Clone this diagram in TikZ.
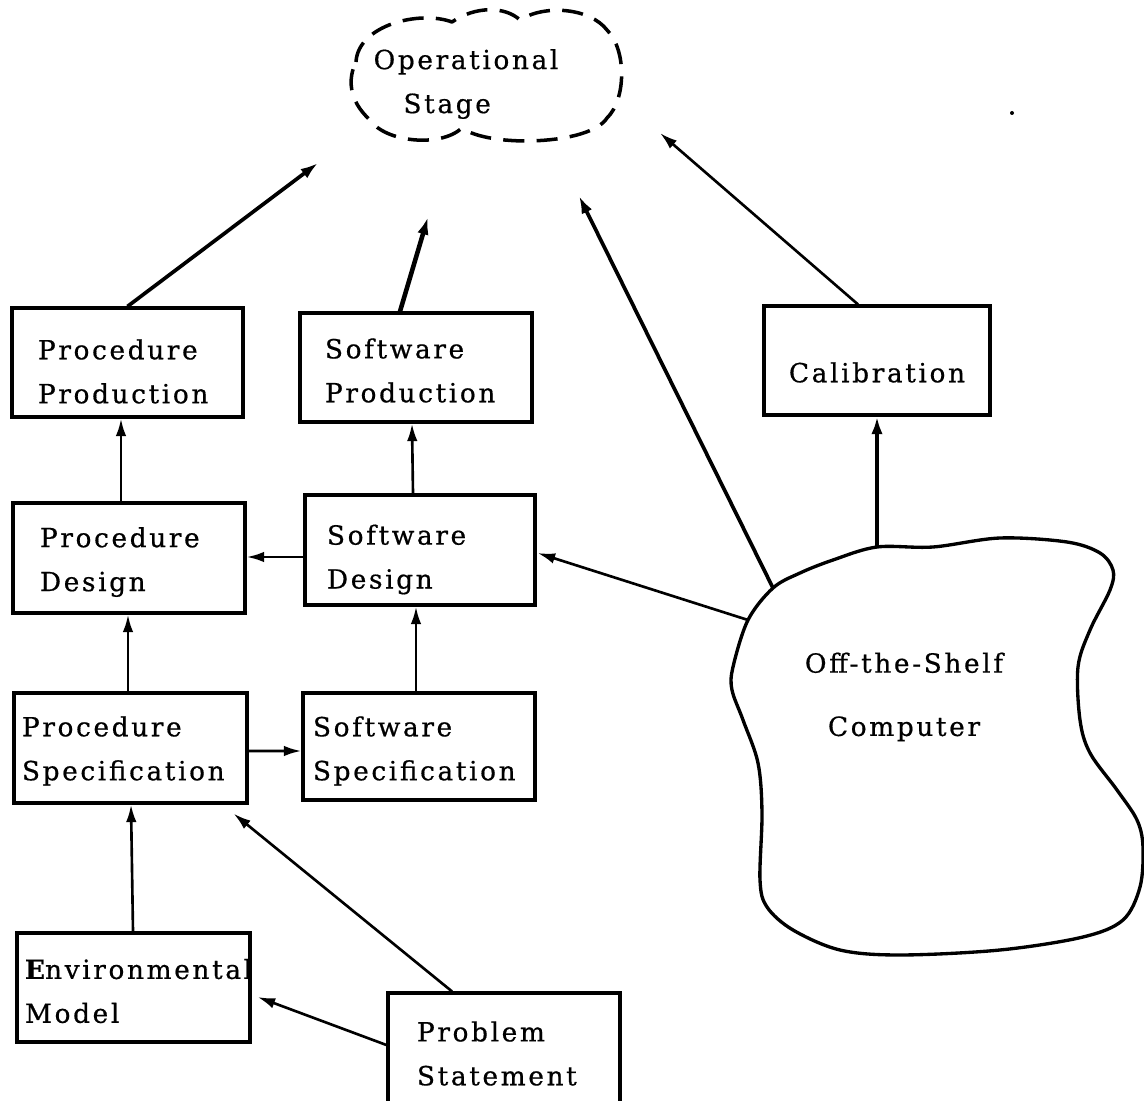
\documentclass[tikz,border=0pt]{standalone}
\usepackage{fontspec}
\setmainfont{DejaVu Serif}[LetterSpace=10,FakeBold=0.6]
\usetikzlibrary{arrows.meta,calc}
\begin{document}
\begin{tikzpicture}[x=0.02cm,y=-0.02cm,
  every node/.style={font=\fontsize{15}{25}\selectfont},
  box/.style n args={4}{draw, line width=1.8pt, minimum width=#1*0.02cm,
    minimum height=#2*0.02cm, inner xsep=#3*0.02cm, inner ysep=0pt,
    text width=#4*0.02cm, align=left},
  dn/.style={execute at begin node={\rule{0pt}{\dimexpr12pt+#1pt\relax}}},
  arr/.style={line width=1.5pt, -{Latex[length=10pt,width=6pt]}},
  thickarr/.style={line width=2.1pt, -{Latex[length=10pt,width=6.5pt]}},
  cloudline/.style={line width=1.8pt, line join=round}]
\useasboundingbox (0,0) rectangle (1144,1101);
\fill[white] (0,0) rectangle (1144,1101);
\clip (0,0) rectangle (1144,1101);

% Operational stage (dashed cloud)
\draw[cloudline, line width=2pt, dash pattern=on 12pt off 7pt]
  (356,62) .. controls (358,25) and (420,10) .. (452,22)
  .. controls (475,6) and (505,6) .. (520,20)
  .. controls (545,4) and (590,8) .. (607,30)
  .. controls (627,50) and (626,100) .. (607,118)
  .. controls (590,145) and (490,148) .. (462,128)
  .. controls (440,148) and (385,142) .. (370,120)
  .. controls (348,100) and (348,78) .. (356,62);
\node[align=left, inner sep=0pt] (op) at (466,84) {Operational\\\hspace*{17pt}Stage};
\coordinate (opA) at (318,163);
\coordinate (opB) at (428,217);
\coordinate (opC) at (579,196);
\coordinate (opD) at (660,133);
\fill (1012,113) circle (2);

% Boxes
\node[box={231}{109}{26}{179}, dn=9.6] (pp) at (127.5,362.5) {Procedure\\Production};
\node[box={232}{109}{25}{182}, dn=2.8] (sp) at (416,367.5) {Software\\Production};
\node[draw, line width=1.8pt, minimum width=226*0.02cm, minimum height=109*0.02cm,
  align=center, dn=13] (cal) at (877,360.5) {Calibration};
\node[box={232}{110}{27}{178}, dn=4] (pd) at (129,558) {Procedure\\Design};
\node[box={230}{110}{22}{186}, dn=10.2] (sd) at (420,550) {Software\\Design};
\node[box={233}{110}{8}{217}, dn=2.8] (ps) at (130.5,748) {Procedure\\Specification};
\node[box={232}{107}{10}{212}, dn=4.5] (ss) at (419,746.5) {Software\\Specification};
\node[box={233}{109}{8}{217}, dn=3.4] (em) at (133.5,987.5) {{\bfseries E}nvironmental\\Model};
\node[box={232}{121}{29}{174}] (pst) at (504,1053.5) {Problem\\Statement};

% Off-the-shelf computer
\draw[cloudline, line width=1.9pt] plot[smooth cycle, tension=0.55] coordinates {
  (773,588) (748,620) (733,667) (732,690) (743,720) (758,763) (762,813)
  (760,880) (767,907) (793,930) (840,950) (900,955) (1000,950) (1083,937)
  (1123,920) (1140,887) (1143,847) (1137,820) (1117,790) (1090,753)
  (1080,720) (1078,667) (1090,630) (1110,590) (1113,570) (1100,553)
  (1067,542) (1000,538) (933,547) (877,547) (833,560) (800,573)};
\node[align=center, font=\fontsize{15}{36}\selectfont] (comp) at (904,697) {Off-the-Shelf\\Computer};
\coordinate (c1) at (773,588);
\coordinate (c2) at (748,620);
\coordinate (c3) at (877,547);

% Connectors
\draw[thickarr] (pp.north) -- (opA);
\draw[thickarr, line width=2.6pt] ($(sp.north)+(-16,0)$) -- (opB);
\draw[thickarr] (c1) -- (opC);
\draw[arr] ($(cal.north)+(-19,0)$) -- (opD);
\draw[arr] ($(pd.north)+(-8,0)$) -- ($(pp.south)+(-6.5,0)$);
\draw[arr] ($(sd.north)+(-7,0)$) -- ($(sp.south)+(-4,0)$);
\draw[arr] ($(sd.west)+(0,7)$) -- ($(pd.east)+(0,-1)$);
\draw[arr] (c2) -- ($(sd.east)+(1,3)$);
\draw[thickarr] (c3) -- (cal.south);
\draw[arr] ($(ps.north)+(-2.5,0)$) -- ($(pd.south)+(-1,0)$);
\draw[arr] ($(ss.north)+(-3,0)$) -- ($(sd.south)+(-4,0)$);
\draw[arr] ($(ps.east)+(0,3)$) -- ($(ss.west)+(0,4.5)$);
\draw[arr] ($(em.north)+(-0.5,0)$) -- ($(ps.south)+(0.5,0)$);
\draw[arr] ($(pst.north)+(-52,0)$) -- ($(ps.south east)+(-15,9)$);
\draw[arr] ($(pst.west)+(0,-8.5)$) -- ($(em.east)+(6,9.5)$);
\end{tikzpicture}
\end{document}
